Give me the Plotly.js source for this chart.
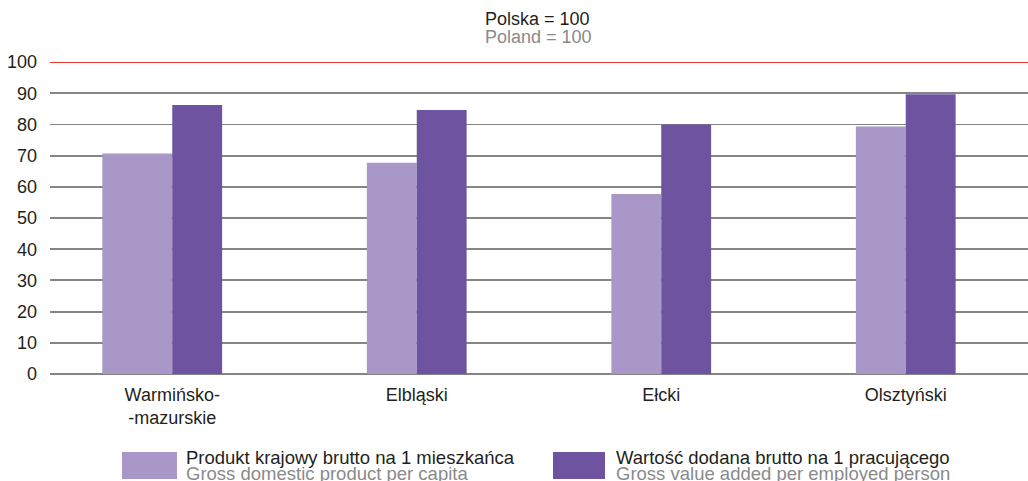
<!DOCTYPE html>
<html><head><meta charset="utf-8">
<script src="https://cdn.plot.ly/plotly-3.0.1.min.js"></script>
<style>body{margin:0;background:#fff}#c{width:1028px;height:481px}</style>
</head><body><div id="c"></div>
<script>
const categories = ["Warmińsko-<br>-mazurskie", "Elbląski", "Ełcki", "Olsztyński"];
const gdpPerCapita = [70.7, 67.7, 57.7, 79.3];
const gvaPerEmployed = [86.2, 84.6, 80.0, 89.7];
const seriesPL = ["Produkt krajowy brutto na 1 mieszkańca", "Wartość dodana brutto na 1 pracującego"];
const seriesEN = ["Gross domestic product per capita", "Gross value added per employed person"];
const yTicks = [0,10,20,30,40,50,60,70,80,90,100];

const light = "#a998c7", dark = "#6e53a1";
const font = "Liberation Sans, Arial, sans-serif";
const black = "#231f20", gray = "#8a8a8a";

const traces = [
  {type:"bar", x:categories, y:gdpPerCapita, name:seriesPL[0], marker:{color:light},
   width:[0.286,0.204,0.204,0.204], offset:[-0.286,-0.204,-0.204,-0.204], showlegend:false, hoverinfo:"y"},
  {type:"bar", x:categories, y:gvaPerEmployed, name:seriesPL[1], marker:{color:dark},
   width:0.204, offset:0, showlegend:false, hoverinfo:"y"}
];

const layout = {
  width:1028, height:481,
  margin:{l:50, r:0, t:62, b:107},
  paper_bgcolor:"#fff", plot_bgcolor:"#fff",
  font:{family:font, size:18, color:black},
  barmode:"group",
  xaxis:{type:"category", showgrid:false, showline:false, ticks:"", zeroline:false,
         ticklabelstandoff:8,
         tickfont:{family:font, size:18, color:black}},
  yaxis:{range:[0,100], tickvals:yTicks, ticktext:yTicks.map(String),
         showgrid:true, gridcolor:"#858585", gridwidth:1.8,
         zeroline:true, zerolinecolor:"#858585", zerolinewidth:1.8, showline:false,
         ticks:"", ticklabelstandoff:12,
         tickfont:{family:font, size:18, color:black}},
  shapes:[
    {type:"line", xref:"paper", yref:"y", x0:0, x1:1, y0:100, y1:100,
     line:{color:"#e8392e", width:2}, layer:"above"},
    {type:"rect", xref:"paper", yref:"paper", x0:(122-50)/978, x1:(177-50)/978,
     y0:-(452-374)/312, y1:-(479-374)/312, fillcolor:light, line:{width:0}},
    {type:"rect", xref:"paper", yref:"paper", x0:(553-50)/978, x1:(605-50)/978,
     y0:-(452-374)/312, y1:-(479-374)/312, fillcolor:dark, line:{width:0}}
  ],
  annotations:[
    {xref:"paper", yref:"paper", x:(485-50)/978, y:1+(62-19)/312, text:"Polska = 100",
     showarrow:false, font:{family:font, size:18, color:black}, xanchor:"left", yanchor:"middle", xshift:-2},
    {xref:"paper", yref:"paper", x:(485-50)/978, y:1+(62-37)/312, text:"Poland = 100",
     showarrow:false, font:{family:font, size:18, color:gray}, xanchor:"left", yanchor:"middle", xshift:-2},
    {xref:"paper", yref:"paper", x:(186-50)/978, y:-(457-374)/312, text:seriesPL[0],
     showarrow:false, font:{family:font, size:18.5, color:black}, xanchor:"left", yanchor:"middle", xshift:-2},
    {xref:"paper", yref:"paper", x:(186-50)/978, y:-(473-374)/312, text:seriesEN[0],
     showarrow:false, font:{family:font, size:18.5, color:gray}, xanchor:"left", yanchor:"middle", xshift:-2},
    {xref:"paper", yref:"paper", x:(616-50)/978, y:-(457-374)/312, text:seriesPL[1],
     showarrow:false, font:{family:font, size:18.5, color:black}, xanchor:"left", yanchor:"middle", xshift:-2},
    {xref:"paper", yref:"paper", x:(616-50)/978, y:-(473-374)/312, text:seriesEN[1],
     showarrow:false, font:{family:font, size:18.5, color:gray}, xanchor:"left", yanchor:"middle", xshift:-2}
  ]
};

Plotly.newPlot("c", traces, layout, {displayModeBar:false, staticPlot:true});
</script>
</body></html>
